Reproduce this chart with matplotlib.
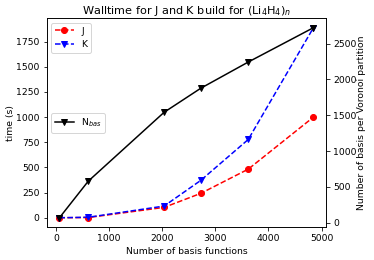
import numpy as np
import matplotlib
matplotlib.use('Agg')
import matplotlib.pyplot as plt

# data
nbasis = [68, 611, 2037, 2726, 3620, 4846]
t_J = [0, 2, 103, 242, 483, 1000]
t_K = [0, 5, 116, 371, 778, 1889]
n_vor = [70, 581, 1541, 1876, 2242, 2721]

plt.rcParams['font.size'] = 9.3

fig = plt.figure(figsize=(374/72., 260/72.), dpi=72)
ax = fig.add_axes([0.125, 0.126, 0.747, 0.804])
ax.plot(nbasis, t_J, 'ro--', label='J')
ax.plot(nbasis, t_K, 'bv--', label='K')
ax.set_xlabel('Number of basis functions')
ax.set_ylabel('time (s)', labelpad=1)
ax.set_title('Walltime for J and K build for (Li$_4$H$_4$)$_n$', fontsize=11.2, pad=4)
ax.legend(loc='upper left')

ax2 = ax.twinx()
ax2.plot(nbasis, n_vor, 'kv-', label='N$_{bas}$')
ax2.set_ylabel('Number of basis per Voronoi partition', labelpad=0)
ax2.legend(loc='center left')

fig.savefig('out.png', dpi=72)
